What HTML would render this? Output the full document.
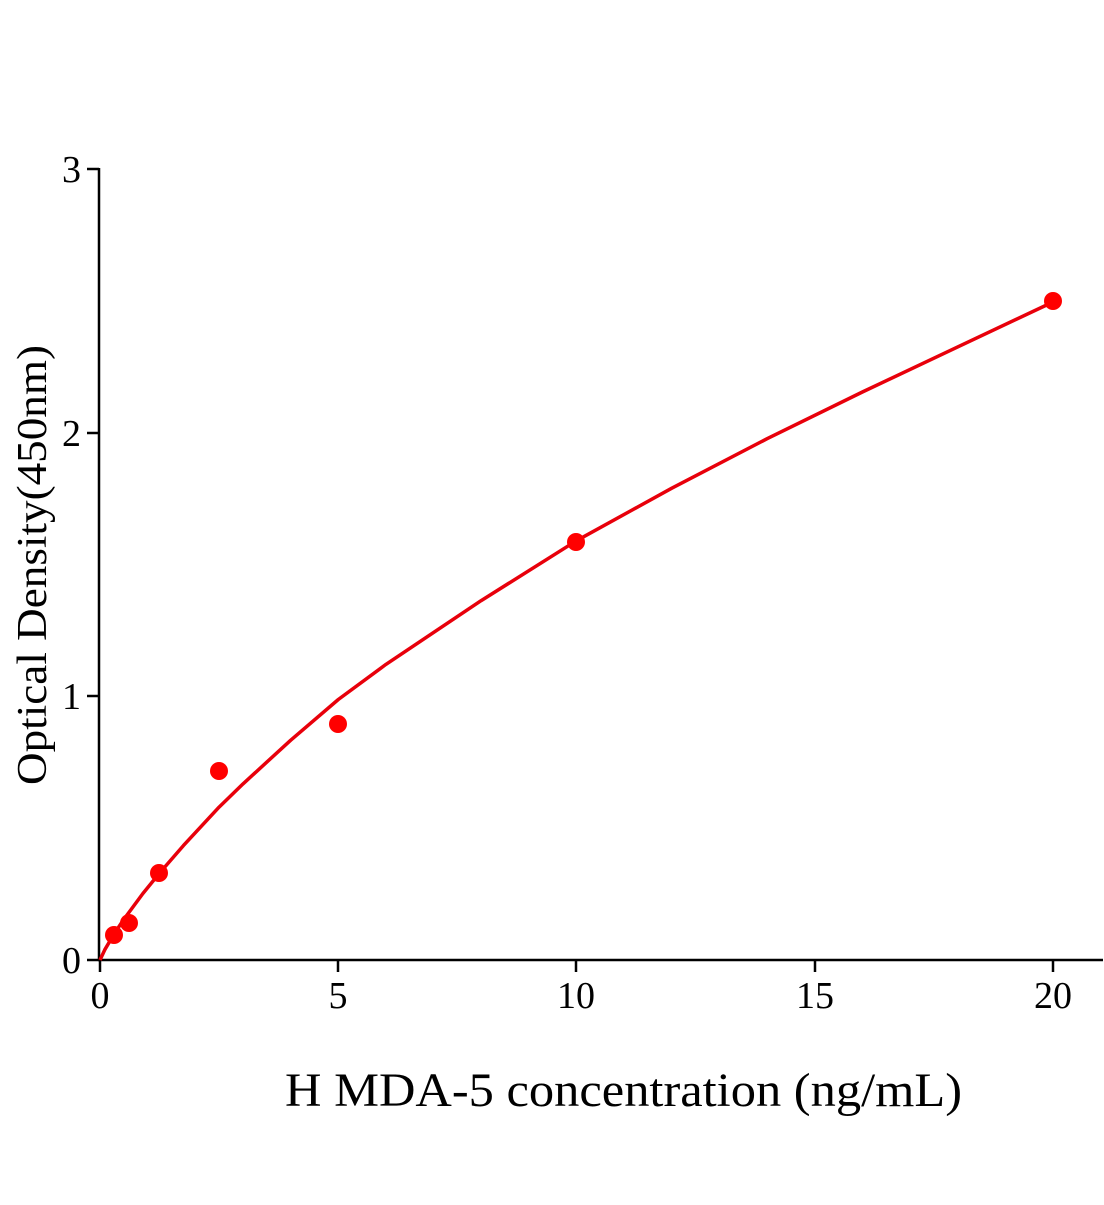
<!DOCTYPE html>
<html><head><meta charset="utf-8"><style>html,body{margin:0;padding:0;background:#fff}</style></head>
<body>
<svg width="1104" height="1200" xmlns="http://www.w3.org/2000/svg" font-family="'Liberation Serif', serif">
<rect width="1104" height="1200" fill="#fff"/>
<g stroke="#000" stroke-width="2.5" fill="none">
<line x1="99" y1="168" x2="99" y2="961"/>
<line x1="98" y1="960" x2="1103" y2="960"/>
<line x1="87" y1="169" x2="99" y2="169"/>
<line x1="87" y1="433" x2="99" y2="433"/>
<line x1="87" y1="696" x2="99" y2="696"/>
<line x1="87" y1="960" x2="99" y2="960"/>
<line x1="100" y1="960" x2="100" y2="972"/>
<line x1="338" y1="960" x2="338" y2="972"/>
<line x1="576" y1="960" x2="576" y2="972"/>
<line x1="815" y1="960" x2="815" y2="972"/>
<line x1="1053" y1="960" x2="1053" y2="972"/>
</g>
<g font-size="38" fill="#000" text-anchor="end">
<text x="81" y="182">3</text>
<text x="81" y="446">2</text>
<text x="81" y="709">1</text>
<text x="81" y="973">0</text>
</g>
<g font-size="38" fill="#000" text-anchor="middle">
<text x="100" y="1008">0</text>
<text x="338" y="1008">5</text>
<text x="576" y="1008">10</text>
<text x="815" y="1008">15</text>
<text x="1053" y="1008">20</text>
</g>
<text x="285" y="1106" font-size="48" textLength="677" lengthAdjust="spacingAndGlyphs">H MDA-5 concentration (ng/mL)</text>
<text transform="translate(46,565) rotate(-90)" font-size="42" text-anchor="middle" textLength="440" lengthAdjust="spacingAndGlyphs">Optical Density(450nm)</text>
<polyline fill="none" stroke="#e8000b" stroke-width="3.5" stroke-linejoin="round"
points="100,960 104.8,949.7 114.3,933.6 123.8,919.4 142.9,893.5 159.6,873 183.4,845.6 219.1,807.1 243,783.9 290.6,740.3 338.3,699.5 385.9,664.4 481.2,600.6 576.5,540.7 671.8,488.2 767.1,438.7 862.4,392 957.7,346.9 1053,302"/>
<g fill="#f00">
<circle cx="114" cy="935" r="9"/>
<circle cx="129" cy="923" r="9"/>
<circle cx="159" cy="873" r="9"/>
<circle cx="219" cy="771" r="9"/>
<circle cx="338" cy="724" r="9"/>
<circle cx="576" cy="542" r="9"/>
<circle cx="1053" cy="301" r="9"/>
</g>
</svg>
</body></html>
